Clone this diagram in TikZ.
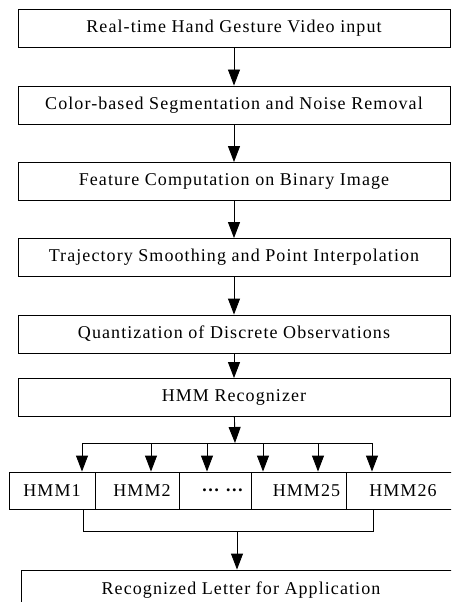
\documentclass[tikz,border=0pt]{standalone}
\usepackage{fontspec}
\setmainfont{Liberation Serif}[LetterSpace=6]
\usetikzlibrary{arrows.meta}

\begin{document}
\begin{tikzpicture}
    [x=1pt, y=-1pt, line width=0.9pt,
      every node/.style={font=\fontsize{18}{20}\selectfont},
      stage/.style={draw, rectangle, minimum width=432pt, minimum height=38pt, inner sep=0pt},
      cell/.style={draw, rectangle, minimum height=37pt, inner sep=0pt},
      arr/.style={-{Triangle[width=12pt,length=16pt]}},
     ]
    \useasboundingbox (0,0) rectangle (451,602);
    \clip (0,0) rectangle (451,602);

    % processing chain
    \node[stage] (video) at (234,28)    {Real-time Hand Gesture Video input};
    \node[stage] (seg)   at (234,105)   {Color-based Segmentation and Noise Removal};
    \node[stage] (feat)  at (234,181.5) {Feature Computation on Binary Image};
    \node[stage] (traj)  at (234,257.5) {Trajectory Smoothing and Point Interpolation};
    \node[stage] (quant) at (234,334)   {Quantization of Discrete Observations};
    \node[stage] (rec)   at (234,397.5) {HMM Recognizer};

    % one model per letter
    \node[cell, minimum width=86pt]  (hmm1)  at (52,490.5)    {HMM1};
    \node[cell, minimum width=84pt]  (hmm2)  at (137,490.5)   {\hspace*{10pt}HMM2};
    \node[cell, minimum width=72pt]  (dots)  at (215,490.5)   {\hspace*{16pt}\textbf{\ldots\ \ldots}};
    \node[cell, minimum width=95pt]  (hmm25) at (298.5,490.5) {\hspace*{16pt}HMM25};
    \node[cell, minimum width=114pt] (hmm26) at (403,490.5)   {HMM26};

    \node[stage, minimum width=440pt, minimum height=40pt] (letter) at (241,590)
      {Recognized Letter for Application};

    \draw[arr] (video) -- (seg);
    \draw[arr] (seg) -- (feat);
    \draw[arr] (feat) -- (traj);
    \draw[arr] (traj) -- (quant);
    \draw[arr] (quant) -- (rec);

    % fan out to the models
    \coordinate (split) at (235,443);
    \draw[arr] (rec) -- (split);
    \foreach \i/\x in {1/82, 2/151, 3/207, 4/263, 5/318, 6/372}
      \coordinate (tap\i) at (\x,443);
    \draw (tap1) -- (tap6);
    \foreach \i/\c in {1/hmm1, 2/hmm2, 3/dots, 4/hmm25, 5/hmm25, 6/hmm26}
      \draw[arr] (tap\i) -- (tap\i |- \c.north);

    % collect the results
    \coordinate (joinL) at (83,531);
    \coordinate (joinR) at (373,531);
    \coordinate (joinC) at (237,531);
    \draw (joinL |- hmm1.south) -- (joinL) -- (joinR) -- (joinR |- hmm26.south);
    \draw[arr] (joinC) -- (joinC |- letter.north);
\end{tikzpicture}
\end{document}
